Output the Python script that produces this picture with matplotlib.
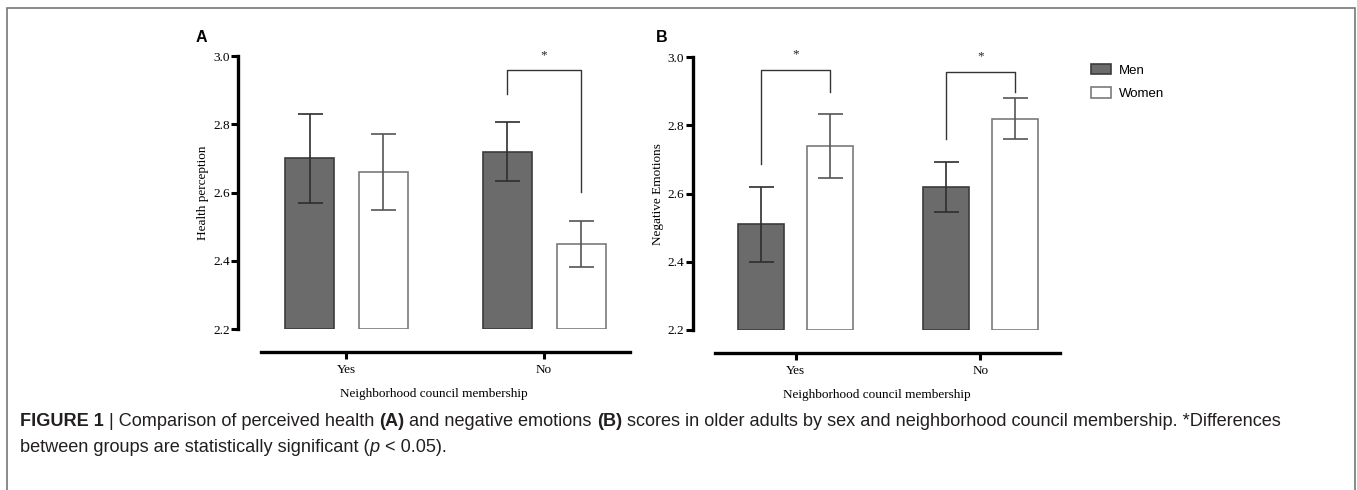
import matplotlib
matplotlib.use("Agg")
import matplotlib.pyplot as plt
from matplotlib.patches import Rectangle
import numpy as np

groups = ["Yes", "No"]
sexes = ["Men", "Women"]

health_mean = {"Men": [2.70, 2.72], "Women": [2.66, 2.45]}
health_err = {"Men": [0.13, 0.087], "Women": [0.11, 0.067]}

neg_mean = {"Men": [2.51, 2.62], "Women": [2.74, 2.82]}
neg_err = {"Men": [0.11, 0.074], "Women": [0.094, 0.06]}

# significance brackets: (group index, y of men end, y of women end, top)
health_sig = [(1, 2.89, 2.602, 2.958)]
neg_sig = [(0, 2.687, 2.897, 2.964), (1, 2.76, 2.897, 2.958)]

W, H = 1357, 490
serif = "Liberation Serif"
sans = "Liberation Sans"

fig = plt.figure(figsize=(W / 100, H / 100), dpi=100)

bar_w = 0.248
off = 0.187
styles = {
    "Men": dict(face="#6b6b6b", edge="#3c3c3c", ecol="#2e2e2e"),
    "Women": dict(face="#ffffff", edge="#7a7a7a", ecol="#555555"),
}


def panel(rect, means, errs, sigs, ylabel, xlim, spine_lo):
    ax = fig.add_axes(rect)
    # spine position first: it resets the ticks
    for sp in ["top", "right"]:
        ax.spines[sp].set_visible(False)
    ax.spines["left"].set_linewidth(2.4)
    ax.spines["bottom"].set_linewidth(2.4)
    ax.spines["bottom"].set_position(("outward", 16.5))

    x = np.arange(len(groups))
    bars = {}
    for i, s in enumerate(sexes):
        pos = x + (-off if i == 0 else off)
        st = styles[s]
        bars[s] = ax.bar(pos, np.array(means[s]) - 2.2, bottom=2.2, width=bar_w,
                         color=st["face"], edgecolor=st["edge"], linewidth=1.2,
                         label=s, zorder=2)
        ax.errorbar(pos, means[s], yerr=errs[s], fmt="none", ecolor=st["ecol"],
                    elinewidth=1.2, capsize=9, capthick=1.2, zorder=3)
    for g, y1, y2, top in sigs:
        xa, xb = g - off, g + off
        ax.plot([xa, xa, xb, xb], [y1, top, top, y2], color="#333333", lw=1.0,
                clip_on=False, zorder=4)
        ax.text(g, top + 0.045, "*", ha="center", va="center", fontsize=9.5,
                family=serif, color="#222222", clip_on=False)
    ax.set_ylim(2.2, 3.0)
    ax.set_xlim(*xlim)
    ax.spines["bottom"].set_bounds(spine_lo, xlim[1])
    ticks = np.arange(2.2, 3.01, 0.2)
    ax.set_yticks(ticks)
    ax.set_yticklabels([f"{v:.1f}" for v in ticks], family=serif, fontsize=9.5)
    ax.set_xticks(x)
    ax.set_xticklabels(groups, family=serif, fontsize=9.5)
    ax.tick_params(axis="y", length=5, width=2.2, pad=1)
    ax.tick_params(axis="x", length=5, width=2.2, pad=4)
    ax.set_ylabel(ylabel, family=serif, fontsize=9.5, labelpad=3)
    ax.set_xlabel("Neighborhood council membership", family=serif,
                  fontsize=9.5, labelpad=8)
    return ax, bars


axA, barsA = panel([238 / W, (H - 329) / H, (630 - 238) / W, 273 / H],
                   health_mean, health_err, health_sig, "Health perception",
                   (-0.549, 1.435), -0.433)
axB, barsB = panel([692.7 / W, (H - 330) / H, (1060 - 692.7) / W, 272.7 / H],
                   neg_mean, neg_err, neg_sig, "Negative Emotions",
                   (-0.556, 1.43), -0.438)

fig.text(196 / W, 1 - 37 / H, "A", family=sans, weight="bold", fontsize=11.5,
         va="center", ha="left")
fig.text(656 / W, 1 - 37 / H, "B", family=sans, weight="bold", fontsize=11.5,
         va="center", ha="left")

fig.legend(handles=[barsB["Men"], barsB["Women"]], labels=sexes,
           loc="upper left", bbox_to_anchor=(1086 / W, 1 - 59 / H),
           frameon=False, prop={"family": sans, "size": 9.5},
           handlelength=1.5, handleheight=0.8, labelspacing=0.8,
           handletextpad=0.6, borderaxespad=0)

# frame round the figure
fig.add_artist(Rectangle((7 / W, -0.05), (1355 - 7) / W, 1.05 - 8 / H,
                         transform=fig.transFigure, fill=False,
                         edgecolor="#777777", lw=1.2))

# caption with mixed weights
line1 = [("FIGURE 1", "bold", "normal"), (" | Comparison of perceived health ", "normal", "normal"),
         ("(A)", "bold", "normal"), (" and negative emotions ", "normal", "normal"),
         ("(B)", "bold", "normal"),
         (" scores in older adults by sex and neighborhood council membership. *Differences",
          "normal", "normal")]
line2 = [("between groups are statistically significant (", "normal", "normal"),
         ("p", "normal", "italic"), (" < 0.05).", "normal", "normal")]

renderer = fig.canvas.get_renderer()
for pieces, ypx in [(line1, 421), (line2, 447)]:
    xpx = 20
    for txt, wt, st in pieces:
        t = fig.text(xpx / W, 1 - ypx / H, txt, family=sans, weight=wt, style=st,
                     fontsize=13.1, color="#231f20", va="center", ha="left")
        bb = t.get_window_extent(renderer=renderer)
        xpx += bb.width

fig.savefig("out.png", dpi=100)
